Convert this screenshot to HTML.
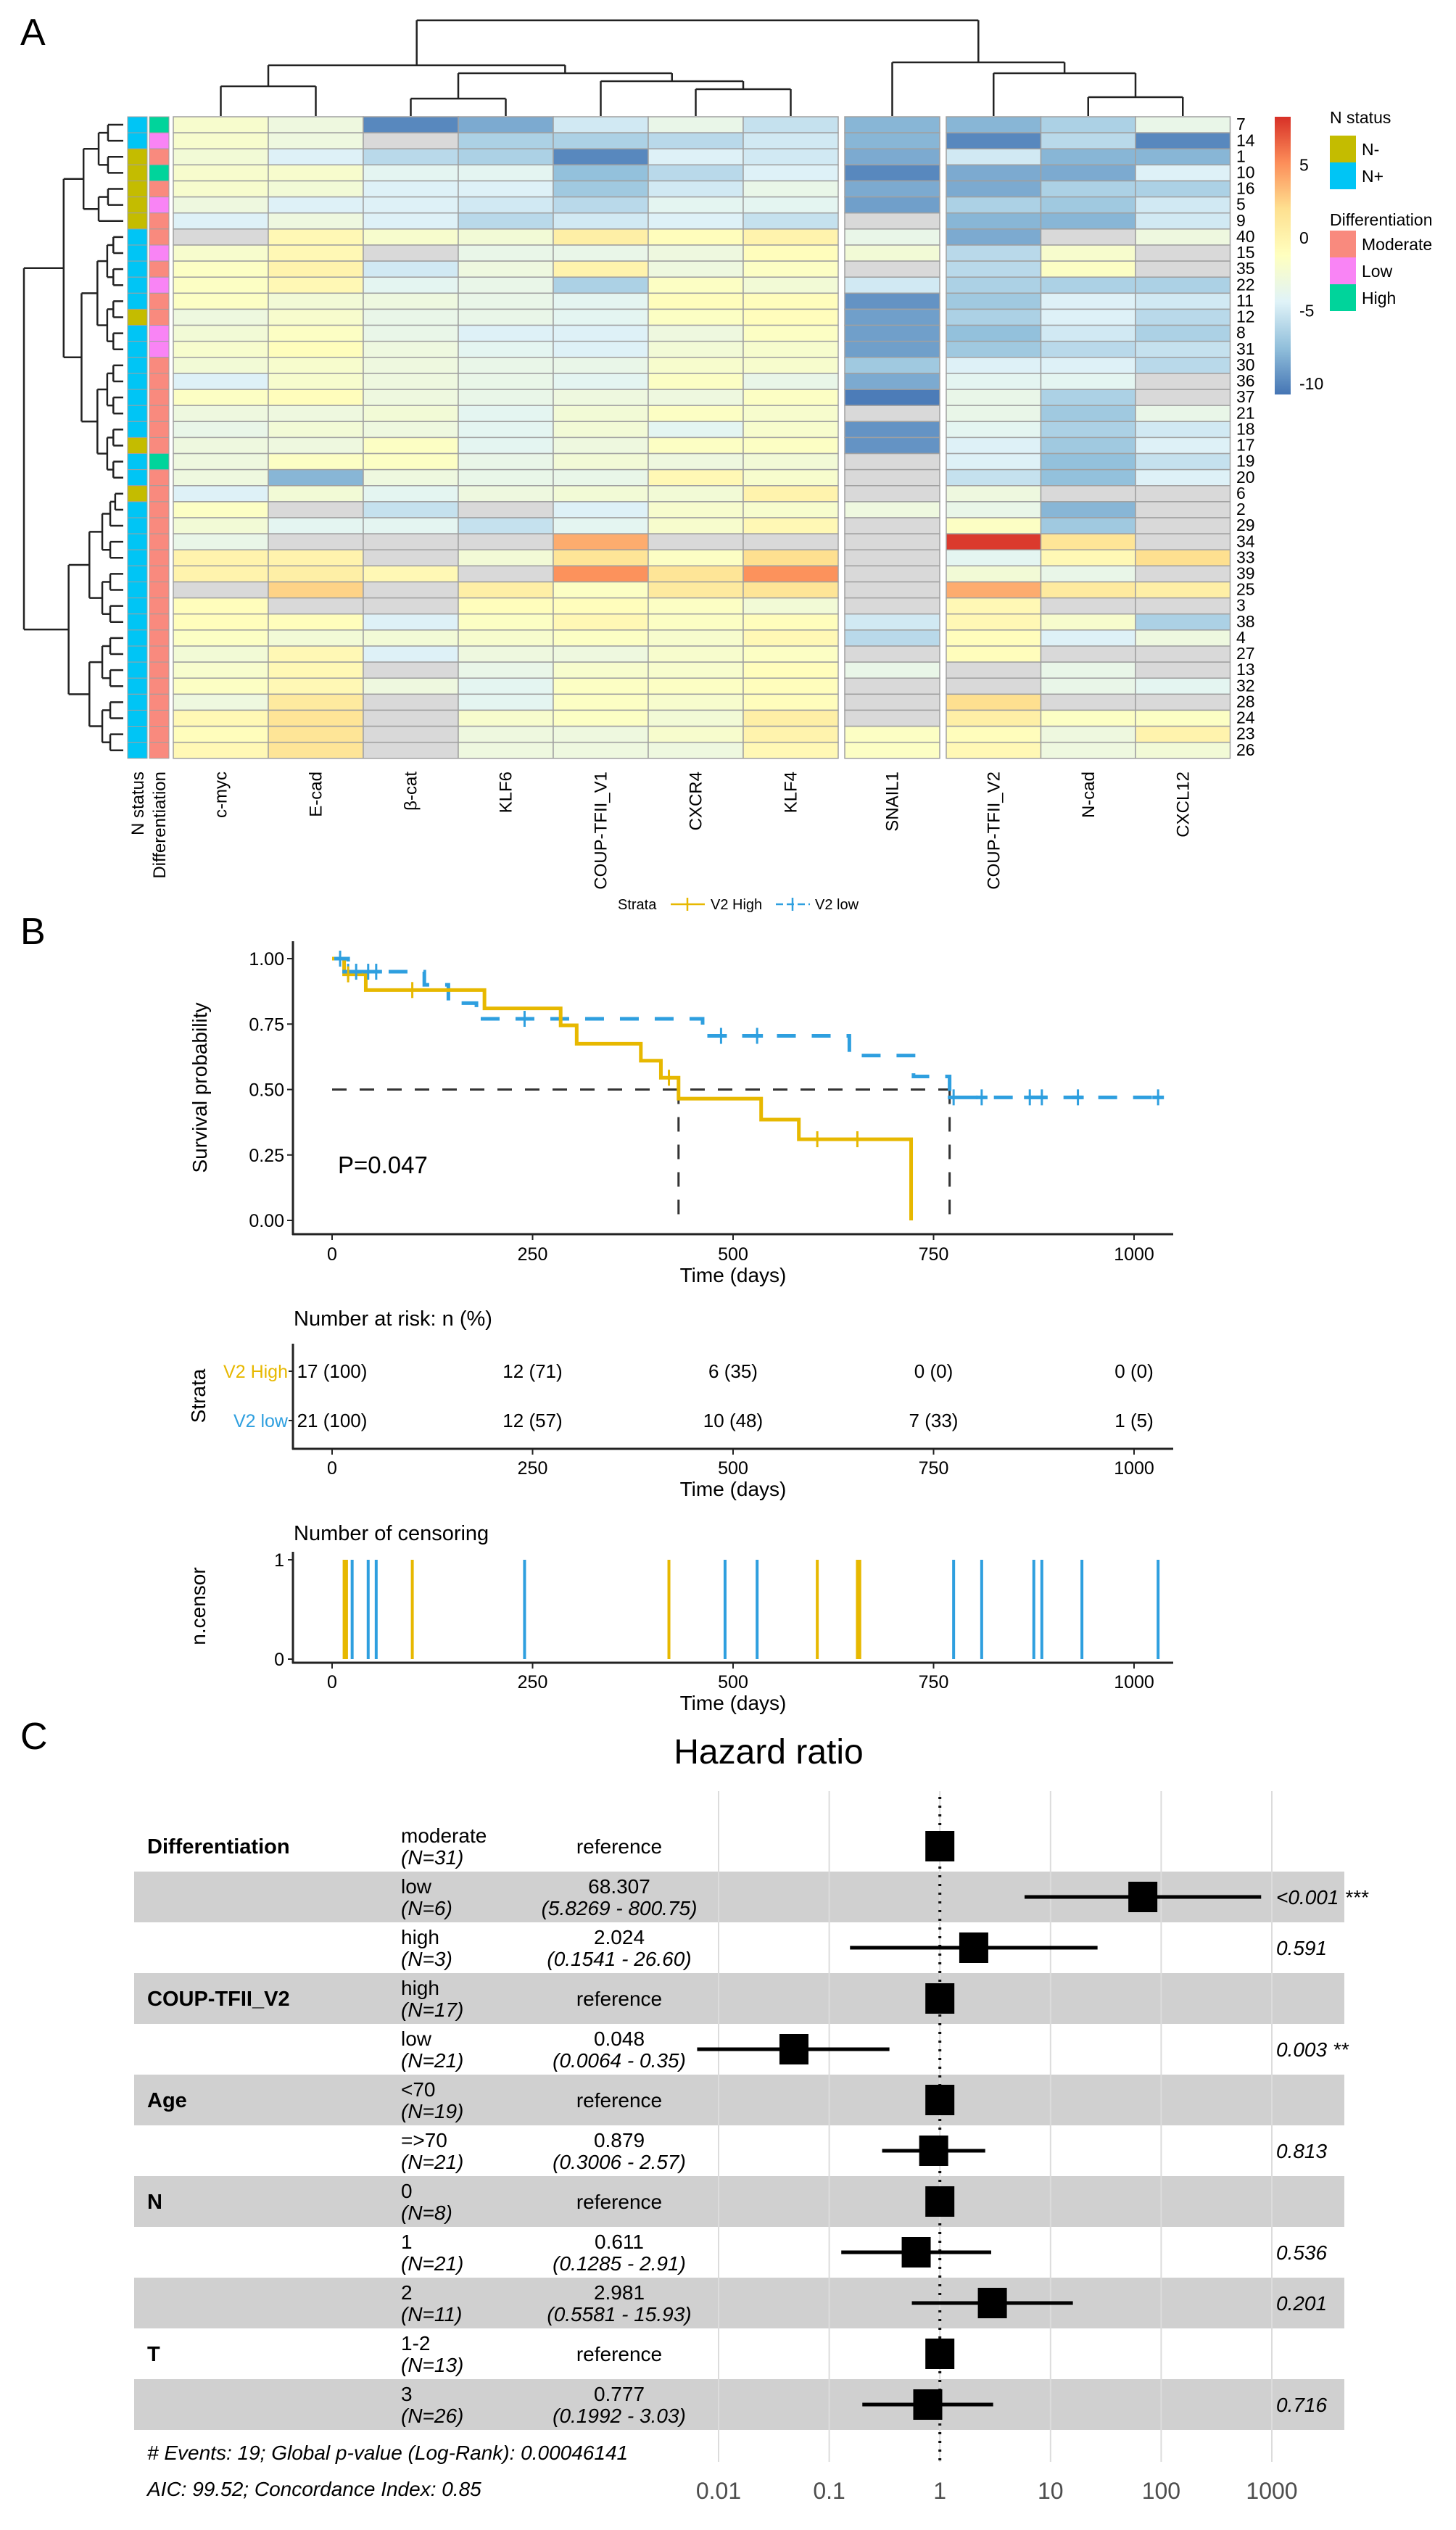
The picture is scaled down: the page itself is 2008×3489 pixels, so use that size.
<!DOCTYPE html>
<html><head><meta charset="utf-8"><title>Figure</title>
<style>
html,body{margin:0;padding:0;background:#fff;}
svg{display:block;font-family:"Liberation Sans",Arial,sans-serif;}
</style></head>
<body>
<svg id="fig" width="2008" height="3489" viewBox="0 0 2008 3489" xmlns="http://www.w3.org/2000/svg">
<rect x="0" y="0" width="2008" height="3489" fill="#fff"/>
<text x="28" y="62" font-size="52">A</text>
<text x="28" y="1302" font-size="52">B</text>
<text x="28" y="2412" font-size="52">C</text>
<g id="heat"></g>
<g id="km"></g>
<g id="forest"></g>
</svg>
<script>
// ===== Heatmap data =====
const hmCols = ['c-myc','E-cad','β-cat','KLF6','COUP-TFII_V1','CXCR4','KLF4','SNAIL1','COUP-TFII_V2','N-cad','CXCL12'];
const hmRows = ['7','14','1','10','16','5','9','40','15','35','22','11','12','8','31','30','36','37','21','18','17','19','20','6','2','29','34','33','39','25','3','38','4','27','13','32','28','24','23','26'];
const NA = null;
const hmValues = [
[-2,-3,-10,-8.5,-5,-3.5,-5.5,-8,-8,-6.5,-3.5],
[-2,-3,NA,-6.5,-6.5,-6,-5,-8,-10,-6,-10],
[-2.5,-4.5,-6,-6.5,-10,-4.5,-5,-8.5,-5,-8,-8],
[-2,-2,-4,-4,-7.5,-6,-4.5,-10,-8.5,-8.5,-4.5],
[-2,-2.5,-4.5,-4.5,-7,-5,-3.5,-8.5,-8.5,-6.5,-6.5],
[-3,-4.5,-4.5,-5,-6,-4,-4,-9,-6.5,-7,-5],
[-4.5,-3,-4.5,-6,-5,-4.5,-5.5,NA,-8,-8,-5],
[NA,-0.5,-2,-2.5,0.5,-1,0,-3.5,-8.5,NA,-3],
[-2,-0.5,NA,-3.5,-3.5,-3,-1,-2.5,-6,-2,NA],
[-1.5,0,-5,-3,0,-3,-1.5,NA,-6,-1.5,NA],
[-1.5,-0.5,-4,-3.5,-6.5,-1.5,-2.5,-5,-6.5,-6.5,-6.5],
[-1.5,-2.5,-3,-3.5,-4,-1,-1,-9.5,-7,-4.5,-5],
[-3,-2,-3.5,-3.5,-4,-1.5,-1,-9,-6.5,-4.5,-6],
[-2.5,-1.5,-3.5,-4.5,-4.5,-3,-1.5,-9,-7.5,-5,-6.5],
[-2,-1,-3,-4,-4.5,-2.5,-2,-9,-7,-6,-5.5],
[-2.5,-2,-3,-3.5,-3.5,-2,-2,-7,-4.5,-4.5,-6],
[-4.5,-2,-3,-3.5,-4,-1.5,-3.5,-8.5,-4,-4,NA],
[-1.5,-1,-3,-3.5,-3,-3,-1.5,-10.5,-3.5,-6.5,NA],
[-3,-3,-2.5,-4,-2.5,-1.5,-2,NA,-3.5,-7,-3.5],
[-3.5,-2.5,-3,-4,-2.5,-4,-2,-9.5,-4,-6.5,-5],
[-3,-3,-1.5,-4,-3,-1.5,-1.5,-9.5,-4.5,-7,-4.5],
[-3,-1.5,-1.5,-3.5,-2.5,-3,-2.5,NA,-4.5,-7.5,-5.5],
[-3,-8,-3,-3.5,-3.5,-0.5,-2,NA,-5.5,-7.5,-4.5],
[-4.5,-2.5,-4,-3,-2.5,-2.5,0,NA,-3,NA,NA],
[-1.5,NA,-5.5,NA,-4.5,-2,-2,-3,-3.5,-8,NA],
[-2.5,-4,-4,-5.5,-4,-2,-0.5,NA,-1.5,-7,NA],
[-3.5,NA,NA,NA,4,NA,NA,NA,8,1.5,NA],
[0,0,NA,-2.5,1.5,-1.5,2,NA,-4,-0.5,2],
[0,0.5,-0.5,NA,5,1.5,5,NA,-2.5,-3.5,NA],
[NA,2.5,NA,0.5,-1.5,1,1.5,NA,4,1,0.5],
[-1,NA,NA,-1,-1,-1.5,-2.5,NA,-0.5,NA,NA],
[-1,-1,-4.5,-1.5,-0.5,-1.5,-1,-5,-0.5,-2,-6.5],
[-1.5,-2.5,-2.5,-2,-1.5,-2,-0.5,-6,-1,-4.5,-3],
[-2.5,-0.5,-4.5,-3,-3,-2,-1.5,NA,-1,NA,NA],
[-2,-0.5,NA,-3.5,-2,-2,-1,-3.5,NA,-3.5,NA],
[-1.5,-0.5,-3,-4,-1.5,-1.5,-1,NA,NA,-3.5,-4],
[-3,1,NA,-4,-1.5,-2,-1,NA,2,NA,NA],
[-0.5,1.5,NA,-2,-1.5,-2.5,0.5,NA,0.5,-1.5,-1.5],
[-1,1.5,NA,-3,-3,-2,0,-1.5,-1,-3,0],
[-0.5,1.5,NA,-3,-3,-3,-0.5,-1.5,-0.5,-3,-2.5]
];
const nStatus = ['N+','N+','N-','N-','N-','N-','N-','N+','N+','N+','N+','N+','N-','N+','N+','N+','N+','N+','N+','N+','N-','N+','N+','N-','N+','N+','N+','N+','N+','N+','N+','N+','N+','N+','N+','N+','N+','N+','N+','N+'];
const diffStatus = ['High','Low','Moderate','High','Moderate','Low','Moderate','Moderate','Low','Moderate','Low','Moderate','Moderate','Low','Low','Moderate','Moderate','Moderate','Moderate','Moderate','Moderate','High','Moderate','Moderate','Moderate','Moderate','Moderate','Moderate','Moderate','Moderate','Moderate','Moderate','Moderate','Moderate','Moderate','Moderate','Moderate','Moderate','Moderate','Moderate'];
const colorbarTicks = [5,0,-5,-10];

// ===== KM data =====
const highTimes = [0,15,42,190,285,305,385,410,432,535,582,722];
const highSurv  = [1.0,0.94,0.88,0.81,0.745,0.675,0.61,0.545,0.465,0.385,0.31,0.0];
const highCens  = [20,100,420,605,655];
const lowTimes = [0,20,115,145,180,462,645,725,770];
const lowSurv  = [1.0,0.95,0.9,0.83,0.77,0.705,0.63,0.55,0.47];
const lowCens  = [10,20,30,45,55,240,485,530,775,810,870,885,930,1030];
const lowEnd = 1030;
const medianTimes = [432,770];
const kmXTicks = [0,250,500,750,1000];
const kmYTicks = [0,0.25,0.5,0.75,1.0];
const riskHigh = ['17 (100)','12 (71)','6 (35)','0 (0)','0 (0)'];
const riskLow  = ['21 (100)','12 (57)','10 (48)','7 (33)','1 (5)'];
const censHighTimes = [15,18,100,420,605,655,658];
const censLowTimes  = [25,45,55,240,490,530,775,810,875,885,935,1030];

// ===== Forest data =====
const fVars = ['Differentiation','','','COUP-TFII_V2','','Age','','N','','','T',''];
const fLevels = ['moderate','low','high','high','low','<70','=>70','0','1','2','1-2','3'];
const fN = ['(N=31)','(N=6)','(N=3)','(N=17)','(N=21)','(N=19)','(N=21)','(N=8)','(N=21)','(N=11)','(N=13)','(N=26)'];
const fEst = [1,68.307,2.024,1,0.048,1,0.879,1,0.611,2.981,1,0.777];
const fLow = [null,5.8269,0.1541,null,0.0064,null,0.3006,null,0.1285,0.5581,null,0.1992];
const fHigh= [null,800.75,26.60,null,0.35,null,2.57,null,2.91,15.93,null,3.03];
const fEstTxt = ['reference','68.307','2.024','reference','0.048','reference','0.879','reference','0.611','2.981','reference','0.777'];
const fCiTxt = ['','(5.8269 - 800.75)','(0.1541 -  26.60)','','(0.0064 -   0.35)','','(0.3006 -   2.57)','','(0.1285 -   2.91)','(0.5581 -  15.93)','','(0.1992 -   3.03)'];
const fP = ['','<0.001 ***','0.591','','0.003 **','','0.813','','0.536','0.201','','0.716'];
const fAxisTicks = [0.01,0.1,1,10,100,1000];
const fAxisLabels = ['0.01','0.1','1','10','100','1000'];

const NS='http://www.w3.org/2000/svg';
function mk(parent,tag,attrs,txt){const e=document.createElementNS(NS,tag);for(const k in attrs)e.setAttribute(k,attrs[k]);if(txt!==undefined)e.textContent=txt;parent.appendChild(e);return e;}

// ===== Heatmap drawing =====
const heat=document.getElementById('heat');
const hmTop=161, rowH=22.12;
function colX(i){ if(i<7) return 239+131*i; if(i===7) return 1165; return 1305+130.5*(i-8); }
function colW(i){ return i<7?131:(i===7?131:130.5); }
const stops=[[-10.8,[69,117,180]],[-7.6,[145,191,219]],[-4.4,[224,243,248]],[-1.2,[255,255,191]],[2.0,[254,224,144]],[5.2,[252,141,89]],[8.35,[215,48,39]]];
function hmColor(v){
  if(v===null) return '#d9d9d9';
  if(v<=stops[0][0]) return 'rgb('+stops[0][1].join(',')+')';
  for(let k=1;k<stops.length;k++){ if(v<=stops[k][0]){const a=stops[k-1],b=stops[k];const t=(v-a[0])/(b[0]-a[0]);
    return 'rgb('+a[1].map((c,j)=>Math.round(c+(b[1][j]-c)*t)).join(',')+')';}}
  return 'rgb(215,48,39)';
}
hmValues.forEach((row,r)=>{
  row.forEach((v,c)=>{
    const el=mk(heat,'rect',{x:colX(c),y:hmTop+r*rowH,width:colW(c),height:rowH,fill:hmColor(v),stroke:'#a0a0a0','stroke-width':1.5});
    
    
  });
  const lab=mk(heat,'text',{x:1705,y:hmTop+r*rowH+rowH*0.82,'font-size':23},hmRows[r]);
  
  
  const ns=mk(heat,'rect',{x:176,y:hmTop+r*rowH,width:27,height:rowH,fill:nStatus[r]==='N-'?'#C4BC00':'#00C5F5',stroke:'#a0a0a0','stroke-width':1});
  
  
  const dc={Moderate:'#F98A7E',Low:'#F984F5',High:'#00D49B'}[diffStatus[r]];
  const df=mk(heat,'rect',{x:206,y:hmTop+r*rowH,width:27,height:rowH,fill:dc,stroke:'#a0a0a0','stroke-width':1});
  
  
});
// column labels
hmCols.forEach((name,c)=>{
  const cx=colX(c)+colW(c)/2+8;
  const t=mk(heat,'text',{x:cx,y:1064,'font-size':24,'text-anchor':'end',transform:'rotate(-90 '+cx+' 1064)'},name);
  
  
});
[['N status',198],['Differentiation',228]].forEach(a=>{
  const t=mk(heat,'text',{x:a[1],y:1064,'font-size':24,'text-anchor':'end',transform:'rotate(-90 '+a[1]+' 1064)'},a[0]);
  
  
});
// top dendrogram
const cc=i=>colX(i)+colW(i)/2;
function seg(g,x1,y1,x2,y2){const l=mk(g,'line',{x1:x1,y1:y1,x2:x2,y2:y2,stroke:'#222','stroke-width':2.5});return l;}
function joinTop(a,ay,b,by,h){seg(heat,a,ay,a,h);seg(heat,b,by,b,h);seg(heat,a,h,b,h);return [(a+b)/2,h];}
const leafY=160;
const n12=joinTop(cc(0),leafY,cc(1),leafY,119);
const n34=joinTop(cc(2),leafY,cc(3),leafY,136);
const n67=joinTop(cc(5),leafY,cc(6),leafY,123);
const n567=joinTop(cc(4),leafY,n67[0],n67[1],112);
const n37=joinTop(n34[0],n34[1],n567[0],n567[1],101);
const nL=joinTop(n12[0],n12[1],n37[0],n37[1],90);
const nR1=joinTop(cc(9),leafY,cc(10),leafY,134);
const nR2=joinTop(cc(8),leafY,nR1[0],nR1[1],101);
const nR=joinTop(cc(7),leafY,nR2[0],nR2[1],86);
joinTop(nL[0],nL[1],nR[0],nR[1],28);
// left dendrogram
const rc=r=>hmTop+r*rowH+rowH/2;
function xh(h){return 170-h*137;}
function joinLeft(a,b,h){const x=xh(h);seg(heat,a[1],a[0],x,a[0]);seg(heat,b[1],b[0],x,b[0]);seg(heat,x,a[0],x,b[0]);return [(a[0]+b[0])/2,x];}
function build(lo,hi,h){ if(lo===hi) return [rc(lo),170]; const mid=Math.floor((lo+hi)/2); const hh=h*0.62;
  return joinLeft(build(lo,mid,hh),build(mid+1,hi,hh),h); }
const tA=build(0,6,0.4);
const tB=build(7,22,0.42);
const tTop=joinLeft(tA,tB,0.6);
const tC=build(23,39,0.55);
joinLeft(tTop,tC,1.0);
// colorbar
const defs=mk(heat,'defs',{});
const lg=mk(defs,'linearGradient',{id:'cbar',x1:0,y1:1,x2:0,y2:0});
stops.forEach(s=>{mk(lg,'stop',{offset:((s[0]+10.8)/19.15),'stop-color':'rgb('+s[1].join(',')+')'});});
const cb=mk(heat,'rect',{x:1758,y:161,width:22,height:383,fill:'url(#cbar)'});


colorbarTicks.forEach(v=>{
  const y=328-v*20.1;
  const t=mk(heat,'text',{x:1792,y:y+8,'font-size':23},String(v));
  
  
});
// annotation legend
function legText(x,y,s,sz,name){const t=mk(heat,'text',{x:x,y:y,'font-size':sz||23},s);}
legText(1834,170,'N status',23,'legend-title-n-status');
[['N-','#C4BC00',187],['N+','#00C5F5',224]].forEach(a=>{
  const r=mk(heat,'rect',{x:1834,y:a[2],width:36,height:37,fill:a[1]});
  
  
  legText(1878,a[2]+27,a[0],23,'legend-entry');
});
legText(1834,311,'Differentiation',23,'legend-title-differentiation');
[['Moderate','#F98A7E',318],['Low','#F984F5',355],['High','#00D49B',392]].forEach(a=>{
  const r=mk(heat,'rect',{x:1834,y:a[2],width:36,height:37,fill:a[1]});
  
  
  legText(1878,a[2]+27,a[0],23,'legend-entry');
});
// strata legend
legText(852,1254,'Strata',20,'strata-legend-title');
seg(heat,925,1247,972,1247).setAttribute('stroke','#E7B800');
seg(heat,948,1238,948,1256).setAttribute('stroke','#E7B800');
legText(980,1254,'V2 High',20,'strata-legend-high');
const lb=seg(heat,1070,1247,1117,1247);lb.setAttribute('stroke','#2E9FDF');lb.setAttribute('stroke-dasharray','10 5');
seg(heat,1093,1238,1093,1256).setAttribute('stroke','#2E9FDF');
legText(1124,1254,'V2 low',20,'strata-legend-low');

// ===== KM drawing =====
const km=document.getElementById('km');
const xS=t=>458+t*1.106;
const yS=s=>1683-s*361;
function T(g,x,y,s,sz,anchor,name,extra){const a={x:x,y:y,'font-size':sz,'text-anchor':anchor||'start'};if(extra)Object.assign(a,extra);const t=mk(g,'text',a,s);return t;}
function L(g,x1,y1,x2,y2,col,w,dash){const a={x1:x1,y1:y1,x2:x2,y2:y2,stroke:col,'stroke-width':w};if(dash)a['stroke-dasharray']=dash;return mk(g,'line',a);}
// axes
L(km,404,1298,404,1703,'#222',3);
L(km,403,1702,1618,1702,'#222',3);
kmYTicks.forEach(v=>{L(km,396,yS(v),404,yS(v),'#222',2);T(km,392,yS(v)+9,v.toFixed(2),25,'end','km-y-tick-label');});
kmXTicks.forEach(v=>{L(km,xS(v),1702,xS(v),1710,'#222',2);T(km,xS(v),1738,String(v),25,'middle','km-x-tick-label');});
T(km,1011,1768,'Time (days)',28,'middle','km-x-axis-title');
T(km,285,1500,'Survival probability',28,'middle','km-y-axis-title',{transform:'rotate(-90 285 1500)'});
T(km,466,1618,'P=0.047',33,'start','p-value-label');
// median lines
L(km,xS(0),yS(0.5),xS(medianTimes[1]),yS(0.5),'#333',3,'20 18');
medianTimes.forEach(t=>{const l=L(km,xS(t),yS(0.5),xS(t),yS(0),'#333',3,'20 18');});
function stepPath(times,surv,end){let d='M'+xS(times[0])+','+yS(surv[0]);for(let i=1;i<times.length;i++){d+=' H'+xS(times[i])+' V'+yS(surv[i]);}if(end!==undefined)d+=' H'+xS(end);return d;}
function survAt(times,surv,t){let s=surv[0];for(let i=0;i<times.length;i++){if(times[i]<=t)s=surv[i];}return s;}
const pl=mk(km,'path',{d:stepPath(lowTimes,lowSurv,lowEnd),fill:'none',stroke:'#2E9FDF','stroke-width':5,'stroke-dasharray':'26 22'});


const ph=mk(km,'path',{d:stepPath(highTimes,highSurv),fill:'none',stroke:'#E7B800','stroke-width':5});


lowCens.forEach(t=>{const y=yS(survAt(lowTimes,lowSurv,t));const l=L(km,xS(t),y-11,xS(t),y+11,'#2E9FDF',3);L(km,xS(t)-8,y,xS(t)+8,y,'#2E9FDF',5);});
highCens.forEach(t=>{const y=yS(survAt(highTimes,highSurv,t));const l=L(km,xS(t),y-11,xS(t),y+11,'#E7B800',3);});
// risk table
T(km,405,1828,'Number at risk: n (%)',29,'start','risk-table-title');
L(km,404,1853,404,1999,'#222',3);
L(km,403,1998,1618,1998,'#222',3);
kmXTicks.forEach((v,i)=>{
  L(km,xS(v),1998,xS(v),2006,'#222',2);
  T(km,xS(v),2033,String(v),25,'middle','risk-x-tick-label');
  T(km,xS(v),1900,riskHigh[i],26,'middle','risk-count-high');
  T(km,xS(v),1968,riskLow[i],26,'middle','risk-count-low');
});
L(km,398,1891,404,1891,'#222',2);L(km,398,1959,404,1959,'#222',2);
T(km,397,1900,'V2 High',25,'end','strata-label-high',{fill:'#E7B800'});
T(km,397,1968,'V2 low',25,'end','strata-label-low',{fill:'#2E9FDF'});
T(km,283,1925,'Strata',28,'middle','risk-y-axis-title',{transform:'rotate(-90 283 1925)'});
T(km,1011,2063,'Time (days)',28,'middle','risk-x-axis-title');
// censoring plot
const yC=n=>2288-n*137;
T(km,405,2124,'Number of censoring',29,'start','censoring-title');
L(km,404,2140,404,2294,'#222',3);
L(km,403,2293,1618,2293,'#222',3);
[0,1].forEach(v=>{L(km,397,yC(v),404,yC(v),'#222',2);T(km,392,yC(v)+9,String(v),25,'end','censor-y-tick-label');});
kmXTicks.forEach(v=>{L(km,xS(v),2293,xS(v),2301,'#222',2);T(km,xS(v),2328,String(v),25,'middle','censor-x-tick-label');});
T(km,1011,2358,'Time (days)',28,'middle','censor-x-axis-title');
T(km,283,2215,'n.censor',28,'middle','censor-y-axis-title',{transform:'rotate(-90 283 2215)'});
censHighTimes.forEach(t=>{const l=L(km,xS(t),yC(0),xS(t),yC(1),'#E7B800',4);});
censLowTimes.forEach(t=>{const l=L(km,xS(t),yC(0),xS(t),yC(1),'#2E9FDF',4);});

// ===== Forest drawing =====
const fo=document.getElementById('forest');
const xF=v=>991+(Math.log10(v)+2)*152.6;
const fTop=2511, fH=70;
T(fo,1060,2432,'Hazard ratio',48,'middle','forest-title');
fEst.forEach((e,i)=>{
  if(i%2===1){const r=mk(fo,'rect',{x:185,y:fTop+i*fH,width:1669,height:fH,fill:'#d0d0d0'});}
});
fAxisTicks.forEach((v,i)=>{
  const l=L(fo,xF(v),2470,xF(v),3395,'#dcdcdc',2);
  T(fo,xF(v),3446,fAxisLabels[i],32,'middle','forest-x-tick-label',{fill:'#4d4d4d'});
});
L(fo,xF(1),2478,xF(1),3398,'#111',4,'3 9');
fEst.forEach((e,i)=>{
  const top=fTop+i*fH, cy=top+fH/2;
  if(fVars[i]) T(fo,203,cy+10,fVars[i],29,'start','variable-name',{'font-weight':'bold'});
  T(fo,553,top+30,fLevels[i],28,'start','level-label');
  T(fo,553,top+60,fN[i],28,'start','level-count',{'font-style':'italic'});
  if(fLow[i]===null){
    T(fo,854,cy+10,fEstTxt[i],28,'middle','estimate-text');
  } else {
    T(fo,854,top+30,fEstTxt[i],28,'middle','estimate-text');
    T(fo,854,top+60,fCiTxt[i],28,'middle','ci-text',{'font-style':'italic','xml:space':'preserve'});
    const ci=L(fo,xF(fLow[i]),cy,xF(fHigh[i]),cy,'#000',5);
    
    
  }
  const b=mk(fo,'rect',{x:xF(e)-20,y:cy-21,width:40,height:42,fill:'#000'});
  
  
  if(fP[i]) T(fo,1760,cy+10,fP[i],28,'start','p-value',{'font-style':'italic'});
});
T(fo,203,3392,'# Events: 19; Global p-value (Log-Rank): 0.00046141',28,'start','forest-footer-events',{'font-style':'italic'});
T(fo,203,3442,'AIC: 99.52; Concordance Index: 0.85',28,'start','forest-footer-aic',{'font-style':'italic'});
</script>
</body></html>
